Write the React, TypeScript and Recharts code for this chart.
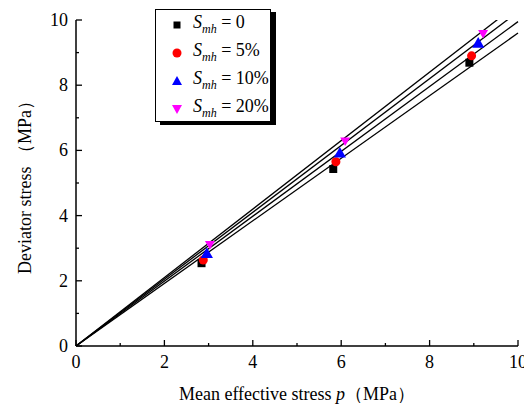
import React from 'react';
import {
  ComposedChart,
  Line,
  Scatter,
  XAxis,
  YAxis,
  Label
} from 'recharts';

// measured points (p, q) for each Smh level
const p0 = [2.84, 5.82, 8.9];
const q0 = [2.54, 5.43, 8.69];
const p5 = [2.88, 5.88, 8.95];
const q5 = [2.64, 5.65, 8.9];
const p10 = [2.96, 5.97, 9.1];
const q10 = [2.81, 5.89, 9.26];
const p20 = [3.03, 6.09, 9.21];
const q20 = [3.1, 6.27, 9.57];

// fitted lines through origin: value at p = 10
const fitEnds = [9.6, 9.95, 10.25, 10.5];
const fitStart = 0;
const fitEndX = 10;

const xTicks = [0, 1, 2, 3, 4, 5, 6, 7, 8, 9, 10];
const yTicks = [0, 1, 2, 3, 4, 5, 6, 7, 8, 9, 10];

const legendItems = [
  { label: '0', color: '#000000', shape: 'square' },
  { label: '5%', color: '#ff0000', shape: 'circle' },
  { label: '10%', color: '#0000ff', shape: 'triangle' },
  { label: '20%', color: '#ff00ff', shape: 'down' }
];

const FONT = '"Liberation Serif", "Times New Roman", serif';

const toPoints = (xs: number[], ys: number[]) => xs.map((x, i) => ({ x, y: ys[i] }));

const fitLines = fitEnds.map((end) => [
  { x: fitStart, y: fitStart },
  { x: fitEndX, y: end }
]);

const XTick = (props: any) => {
  const { x, y, payload } = props;
  const major = payload.value % 2 === 0;
  return (
    <g>
      <line x1={x} x2={x} y1={y} y2={y - (major ? 6 : 3)} stroke="#000" strokeWidth={1.3} />
      {major && (
        <text x={x} y={y + 22} textAnchor="middle" fontSize={18} fontFamily={FONT} fill="#000">
          {payload.value}
        </text>
      )}
    </g>
  );
};

const YTick = (props: any) => {
  const { x, y, payload } = props;
  const major = payload.value % 2 === 0;
  return (
    <g>
      <line x1={x} x2={x + (major ? 6 : 3)} y1={y} y2={y} stroke="#000" strokeWidth={1.3} />
      {major && (
        <text x={x - 8} y={y + 6} textAnchor="end" fontSize={18} fontFamily={FONT} fill="#000">
          {payload.value}
        </text>
      )}
    </g>
  );
};

const DownTriangle = (props: any) => {
  const { cx, cy, fill } = props;
  const s = 5;
  return <polygon points={`${cx - s},${cy - s * 0.8} ${cx + s},${cy - s * 0.8} ${cx},${cy + s * 0.9}`} fill={fill} />;
};

const LegendMarker = ({ shape, color }: { shape: string; color: string }) => (
  <svg width={12} height={12} style={{ display: 'block' }}>
    {shape === 'square' && <rect x={2.5} y={2.5} width={7} height={7} fill={color} />}
    {shape === 'circle' && <circle cx={6} cy={6} r={4.5} fill={color} />}
    {shape === 'triangle' && <polygon points="1,10 11,10 6,1" fill={color} />}
    {shape === 'down' && <polygon points="1,2 11,2 6,11" fill={color} />}
  </svg>
);

const App = () => {
  return (
    <div style={{ position: 'absolute', left: 0, top: 0, width: 524, height: 407, background: '#fff' }}>
      <ComposedChart width={524} height={407} margin={{ top: 20, right: 6, bottom: 0, left: 0 }}>
        <XAxis
          type="number"
          dataKey="x"
          domain={[0, 10]}
          ticks={xTicks}
          interval={0}
          tickSize={0}
          tickMargin={0}
          tick={<XTick />}
          axisLine={{ stroke: '#000', strokeWidth: 1.5 }}
          tickLine={false}
          height={61}
        >
          <Label
            content={(p: any) => {
              const vb = p.viewBox;
              return (
                <text x={vb.x + vb.width / 2} y={vb.y + 54} textAnchor="middle" fontSize={18} fontFamily={FONT} fill="#000">
                  Mean effective stress <tspan fontStyle="italic">p</tspan>（MPa）
                </text>
              );
            }}
          />
        </XAxis>
        <YAxis
          type="number"
          dataKey="y"
          domain={[0, 10]}
          ticks={yTicks}
          interval={0}
          allowDataOverflow
          tickSize={0}
          tickMargin={0}
          tick={<YTick />}
          axisLine={{ stroke: '#000', strokeWidth: 1.5 }}
          tickLine={false}
          width={76}
        >
          <Label
            content={(p: any) => {
              const vb = p.viewBox;
              const cx = 25;
              const cy = vb.y + vb.height / 2;
              return (
                <text
                  x={cx}
                  y={cy}
                  transform={`rotate(-90, ${cx}, ${cy})`}
                  textAnchor="middle"
                  dominantBaseline="central"
                  fontSize={18}
                  fontFamily={FONT}
                  fill="#000"
                >
                  Deviator stress （MPa）
                </text>
              );
            }}
          />
        </YAxis>
        {fitLines.map((pts, i) => (
          <Line
            key={i}
            data={pts}
            dataKey="y"
            type="linear"
            stroke="#000"
            strokeWidth={1.3}
            dot={false}
            activeDot={false}
            isAnimationActive={false}
          />
        ))}
        <Scatter data={toPoints(p0, q0)} fill="#000000" shape="square" isAnimationActive={false} />
        <Scatter data={toPoints(p5, q5)} fill="#ff0000" shape="circle" isAnimationActive={false} />
        <Scatter data={toPoints(p10, q10)} fill="#0000ff" shape="triangle" isAnimationActive={false} />
        <Scatter data={toPoints(p20, q20)} fill="#ff00ff" shape={<DownTriangle />} isAnimationActive={false} />
      </ComposedChart>
      <div
        style={{
          position: 'absolute',
          left: 155,
          top: 9,
          width: 114,
          height: 111,
          border: '1px solid #000',
          boxShadow: '5px 3px 0 #000',
          background: '#fff',
          fontFamily: FONT
        }}
      >
        {legendItems.map((item, i) => (
          <div
            key={item.label}
            style={{ position: 'absolute', left: 15, top: 5 + i * 28, height: 20, display: 'flex', alignItems: 'center' }}
          >
            <LegendMarker shape={item.shape} color={item.color} />
            <span style={{ marginLeft: 10, fontSize: 18, whiteSpace: 'nowrap', lineHeight: '20px' }}>
              <i>S</i>
              <sub style={{ fontSize: 12, fontStyle: 'italic', verticalAlign: '-5px' }}>mh</sub>
              {' = ' + item.label}
            </span>
          </div>
        ))}
      </div>
    </div>
  );
};

export default App;
